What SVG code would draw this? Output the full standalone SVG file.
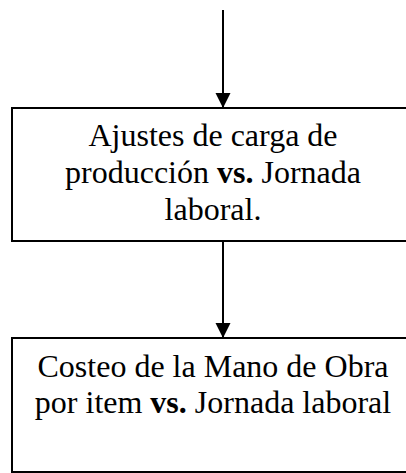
<svg xmlns="http://www.w3.org/2000/svg" width="406" height="473" viewBox="0 0 406 473">
<style>
.box{fill:#fff;stroke:#000;stroke-width:2}
.t{font-family:"Liberation Serif","Times New Roman",serif;font-size:32px;fill:#000;text-anchor:middle}
.b{font-weight:bold}
.edge{stroke:#000;stroke-width:2;fill:none}
</style>
<defs>
<marker id="ah" markerUnits="userSpaceOnUse" markerWidth="16" markerHeight="16" refX="15" refY="7.5" orient="auto">
<path d="M0,0 L15,7.5 L0,15 Z" fill="#000"/>
</marker>
</defs>
<g id="connectors">
<line class="edge" x1="223" y1="10" x2="223" y2="108" marker-end="url(#ah)"/>
<line class="edge" x1="223" y1="241" x2="223" y2="338" marker-end="url(#ah)"/>
</g>
<g id="node1">
<rect class="box" x="12" y="108" width="400" height="133"/>
<text class="t" x="213" y="146">Ajustes de carga de</text>
<text class="t" x="213" y="183">producción <tspan class="b">vs.</tspan> Jornada</text>
<text class="t" x="213" y="220">laboral.</text>
</g>
<g id="node2">
<rect class="box" x="12" y="338" width="400" height="134"/>
<text class="t" x="213" y="377">Costeo de la Mano de Obra</text>
<text class="t" x="213" y="413">por item <tspan class="b">vs.</tspan> Jornada laboral</text>
</g>
</svg>
